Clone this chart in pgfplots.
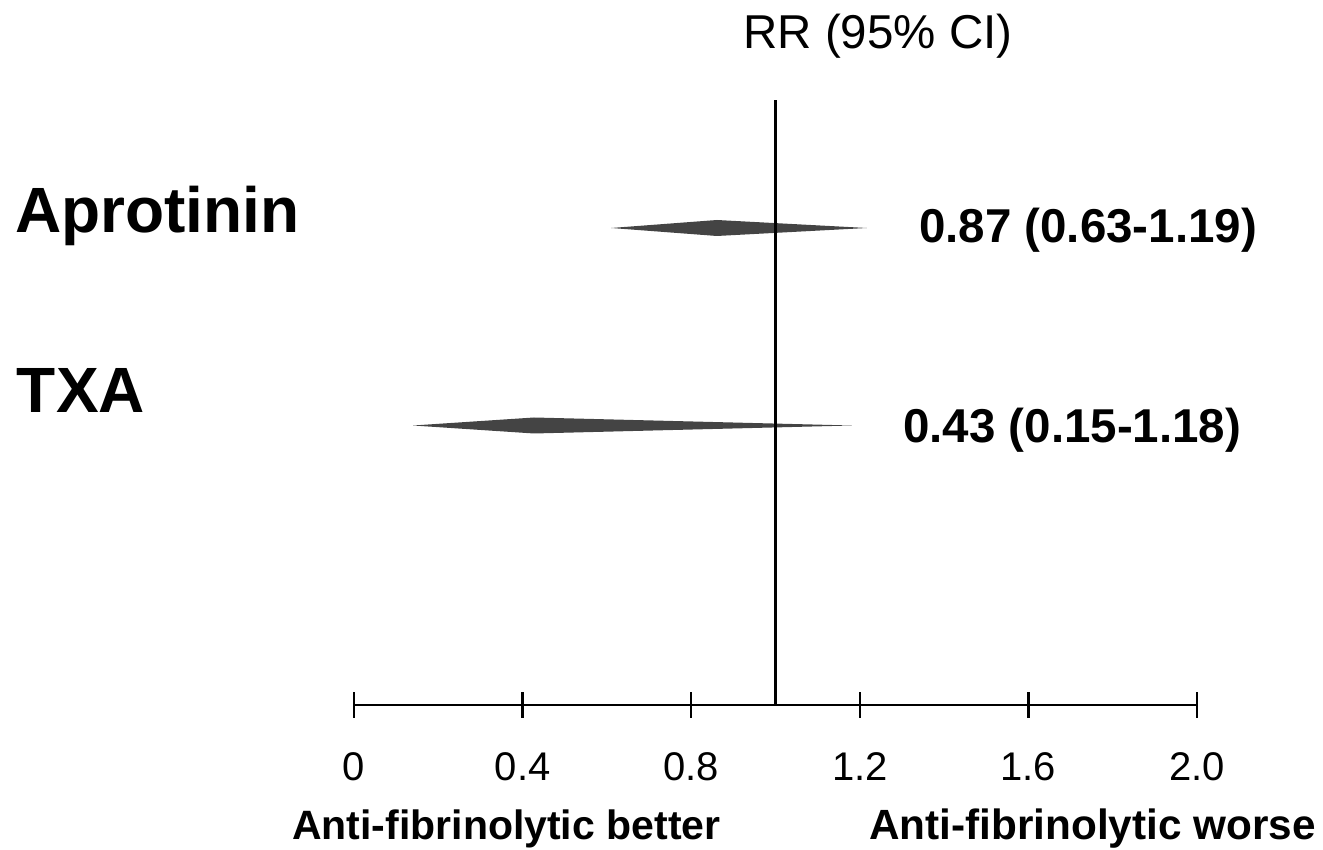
\documentclass[border=0pt]{standalone}
\usepackage{fontspec}
\setmainfont{Liberation Sans}
\usepackage{pgfplots}
\pgfplotsset{compat=1.18}
\definecolor{dia}{HTML}{444444}
\newcommand{\fs}[1]{\fontsize{#1bp}{#1bp}\selectfont}
\begin{document}
\begin{tikzpicture}
\useasboundingbox (0,0) rectangle (1323bp,850bp);
\begin{axis}[
  at={(354bp,145bp)}, anchor=south west,
  scale only axis, width=843bp, height=605bp,
  xmin=0, xmax=2, ymin=145, ymax=750,
  clip=false,
  axis x line*=bottom, axis y line=none,
  x axis line style={-, line width=2.6bp, black},
  xtick={0,0.4,0.8,1.2,1.6,2.0},
  xticklabels={0,0.4,0.8,1.2,1.6,2.0},
  tick align=center, major tick length=25bp,
  xtick style={line width=2.4bp, black},
  xticklabel style={font=\fs{40}, anchor=base, yshift=-63bp},
  ytick=\empty,
]
% diamonds (low, point estimate, high)
\addplot[fill=dia, draw=none] coordinates {(0.610,622) (0.861,630) (1.217,622) (0.861,614)} -- cycle;
\addplot[fill=dia, draw=none] coordinates {(0.140,424.5) (0.427,432.5) (1.181,424.5) (0.427,416.5)} -- cycle;
% reference line
\addplot[black, line width=2.2bp] coordinates {(1,145) (1,750)};
% texts
\node[anchor=base] at (axis cs:1.243,801) {\fs{47.5}RR (95\% CI)};
\node[anchor=base west, inner sep=0pt] at (axis cs:-0.804,617) {\fs{64}\bfseries Aprotinin};
\node[anchor=base west, inner sep=0pt] at (axis cs:-0.800,437) {\fs{64}\bfseries TXA};
\node[anchor=base west, inner sep=0pt] at (axis cs:1.340,607) {\fs{47.5}\bfseries 0.87 (0.63-1.19)};
\node[anchor=base west, inner sep=0pt] at (axis cs:1.3025,407) {\fs{47.5}\bfseries 0.43 (0.15-1.18)};
\node[anchor=base west, inner sep=0pt] at (axis cs:-0.147,11) {\fs{41}\bfseries Anti-fibrinolytic better};
\node[anchor=base west, inner sep=0pt] at (axis cs:1.222,11) {\fs{42.3}\bfseries Anti-fibrinolytic worse};
\end{axis}
\end{tikzpicture}
\end{document}
